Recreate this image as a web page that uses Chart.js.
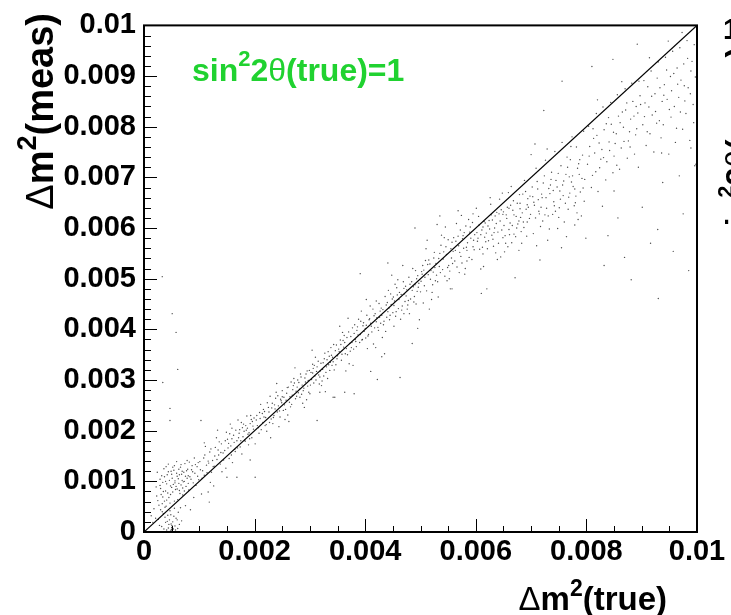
<!DOCTYPE html>
<html>
<head>
<meta charset="utf-8">
<script src="https://cdn.jsdelivr.net/npm/chart.js@4"></script>
<style>
  html, body { margin: 0; padding: 0; background: #fff; }
  canvas { display: block; }
</style>
</head>
<body>
<canvas id="myChart" width="731" height="615"></canvas>
<script>
// Δm² (true, meas) pairs, in units of 1e-4
const bandLow = [
  [3.2,1.1],[4.1,0.4],[4.8,0.2],[5.0,0.9],[5.1,0.3],[4.9,1.6],[5.3,0.6],[4.6,2.4],[3.8,2.9],[5.6,1.2],
  [4.4,0.8],[5.2,2.0],[6.1,0.7],[3.5,3.6],[4.7,4.2],[5.8,2.7],[6.4,1.5],[3.9,1.9],[5.0,0.1],[4.95,0.5],
  [5.05,1.3],[4.3,3.3],[6.8,2.2],[5.5,4.7],[3.0,4.4],[4.0,5.1],[6.2,3.9],[2.6,2.5],
  [2.5,6.2],[3.1,7.4],[3.4,9.8],[3.9,8.1],[4.2,11.3],[4.5,6.8],[4.8,9.1],[5.1,10.6],[5.4,12.2],[5.7,8.4],
  [6.0,11.0],[6.3,9.6],[6.6,12.8],[6.9,10.2],[7.2,11.8],[7.6,9.0],[7.9,12.4],[8.3,10.9],[8.7,13.1],[9.2,11.6],
  [9.6,12.9],[3.6,12.5],[2.9,10.4],[4.4,13.4],[5.9,13.9],[6.5,7.6],[7.4,13.5],[8.1,8.3],[9.9,10.3],[2.2,8.9],
  [3.3,5.6],[5.2,7.9],[6.1,6.4],[7.0,8.7],[4.1,9.5],[5.6,10.1],[6.8,11.4],[8.0,11.1],[8.9,9.7],[7.8,14.1],
  [3.7,10.9],[4.9,12.0],[6.2,10.5],[5.0,8.8],[7.3,10.0],
  [7.5,5.2],[9.0,6.8],[10.4,7.5],[11.8,5.9],[8.4,4.4],[12.6,9.1],[10.9,11.2],
  [5.1,43.1],[5.8,39.4],[6.1,32.1],[3.4,29.5],[4.7,24.4],[4.7,22.0],[3.3,50.4],[10.3,22.0],
  [20.1,10.8],[16.8,10.8],[11.6,7.9],[19.2,14.2],[15.0,10.8],
  [1.3,3.2],[1.8,4.6],[2.1,2.7],[2.7,5.3],[3.4,6.9],[3.8,4.9],[4.3,7.7],[4.6,10.2],[5.3,9.4],[5.5,6.1],
  [5.9,11.6],[6.4,8.2],[6.7,13.3],[7.1,9.9],[7.7,12.1],[8.2,13.8],[8.5,10.4],[9.1,14.6],[9.4,9.2],[9.8,13.7],
  [2.4,11.8],[3.0,8.6],[4.0,12.9],[4.7,5.7],[5.0,11.4],[5.8,9.0],[6.3,12.4],[7.0,7.3],[7.5,11.0],[8.8,11.9],
  [1.6,1.9],[2.8,1.3],[3.6,0.6],[4.5,1.5],[5.4,3.1],[5.7,0.4],[6.6,4.8],[4.2,2.1],[4.85,3.4],[5.15,0.7],
  [3.3,4.0],[6.0,2.4],
  [2.3,7.1],[2.9,9.2],[3.2,11.1],[3.5,8.0],[3.9,10.0],[4.1,6.3],[4.4,11.9],[4.8,7.4],[5.2,12.8],[5.6,9.7],
  [6.0,8.5],[6.4,11.3],[6.9,12.0],[7.3,8.1],[7.8,10.6],[8.6,12.3],[9.3,13.3],[9.7,11.0],[3.7,6.1],[5.5,13.1],
  [6.7,9.3],[8.0,9.6]
];
const bandMid = [
  [10.2,12.3],[10.8,14.6],[11.3,13.2],[11.9,15.8],[12.4,14.1],[12.9,16.7],[13.5,15.2],[14.0,17.4],[14.6,16.1],[15.1,18.3],
  [15.7,17.0],[16.2,19.1],[16.8,18.0],[17.3,20.2],[17.9,18.8],[18.4,21.0],[19.0,19.6],[19.6,21.8],[11.1,16.9],[12.2,11.8],
  [13.8,13.4],[14.9,19.7],[16.5,15.9],[17.6,21.6],[18.9,17.2],[19.8,20.3],[10.5,10.6],[13.1,18.6],[15.4,14.5],[16.9,16.6],
  [18.1,19.9],[12.7,13.0],[14.3,15.6],[17.0,22.1],[19.3,23.0],[11.6,14.0],[15.9,20.5],[13.3,20.1],[18.6,22.9],[14.8,12.6],
  [10.1,13.9],[10.6,12.1],[11.0,15.2],[11.4,11.7],[11.7,13.6],[12.1,16.4],[12.5,12.9],[12.8,15.0],[13.2,14.3],[13.6,17.8],
  [13.9,15.7],[14.4,14.2],[14.7,18.0],[15.2,16.6],[15.5,19.4],[15.8,15.2],[16.3,17.7],[16.6,20.1],[17.1,18.6],[17.4,16.8],
  [17.8,20.6],[18.2,18.1],[18.5,20.1],[18.8,19.3],[19.2,21.4],[19.5,18.6],[19.9,22.5],[12.0,9.8],[14.1,11.9],[16.0,13.7],
  [17.7,15.4],[10.9,17.6],[13.4,16.2],[15.6,21.3],
  [15.3,17.5],[15.9,18.4],[16.4,16.3],[17.2,19.5],[17.5,18.0],[18.0,21.3],[18.3,17.9],[18.7,20.5],[19.1,18.4],[19.4,22.2],
  [19.7,20.9],
  [20.3,22.1],[20.8,19.5],[21.4,23.4],[21.9,21.0],[22.5,24.6],[23.0,22.3],[23.6,25.1],[24.1,23.7],[24.7,26.2],[25.2,24.0],
  [25.8,27.4],[26.3,25.6],[26.9,28.1],[27.4,26.3],[28.0,29.5],[28.5,27.2],[29.1,30.4],[29.6,28.8],[30.2,31.5],[30.7,29.4],
  [31.3,32.6],[31.8,30.6],[32.4,33.4],[32.9,31.5],[33.5,34.7],[34.0,32.9],[34.6,35.8],[20.1,17.4],[22.2,19.9],[23.9,27.6],
  [25.5,22.2],[27.1,30.3],[28.7,25.4],[30.5,33.1],[32.1,28.9],[33.8,36.4],[21.1,25.2],[24.4,20.8],[26.6,29.6],[29.4,26.1],
  [31.0,34.5],[33.2,30.3],[34.3,37.0],[22.8,26.8],[26.0,23.1],[28.3,31.2],[30.0,27.3],[32.7,35.3],[23.3,21.4],[25.0,26.7],
  [27.7,28.6],[29.9,31.9],[31.6,31.0],[34.9,34.2],[21.7,22.7],[24.9,25.5],[27.9,27.5],[30.9,30.8],[33.7,33.5],
  [31.8,27.6],[34.5,26.6],[31.3,22.0],[34.2,26.6],
  [20.5,21.0],[20.9,23.6],[21.2,20.2],[21.6,24.2],[22.0,22.6],[22.3,25.5],[22.7,21.6],[23.1,24.5],[23.5,23.0],[23.8,26.4],
  [24.3,24.9],[24.6,22.7],[25.0,27.9],[25.4,25.1],[25.7,26.0],[26.1,28.6],[26.5,24.7],[26.8,27.0],[27.2,29.4],[27.6,26.8],
  [28.1,28.2],[28.4,30.6],[28.8,27.9],[29.2,29.6],[29.5,31.8],[29.8,27.6],[30.3,30.1],[30.6,32.3],[31.1,30.0],[31.5,33.7],
  [31.9,31.8],[32.2,29.8],[32.6,34.2],[33.0,32.6],[33.3,35.6],[33.6,31.9],[34.1,34.5],[34.4,32.0],[34.8,36.9],[22.9,18.6],
  [26.2,21.8],[29.0,24.6],[32.8,27.7],[24.0,29.3],[27.3,32.4],[30.4,35.9],
  [20.4,23.0],[20.7,20.6],[21.0,22.4],[21.5,21.6],[21.8,23.8],[22.1,21.2],[22.6,23.7],[23.2,25.4],[23.4,22.6],[23.7,24.3],
  [24.2,26.9],[24.5,23.9],[24.8,25.9],[25.3,26.6],[25.6,24.2],[25.9,28.5],[26.4,26.7],[26.7,25.2],[27.0,28.9],[27.5,27.8],
  [27.8,30.0],[28.2,26.6],[28.6,29.0],[28.9,28.4],[29.3,31.2],[29.7,29.9],[30.1,29.0],[30.5,31.4],[30.8,32.9],[31.2,31.7],
  [31.7,29.2],[32.0,33.3],[32.3,32.1],[32.5,30.8],[33.1,34.0],[33.4,33.0],[33.9,34.9],[34.2,33.6],[34.7,33.0],
  [35.2,36.1],[35.7,33.9],[36.3,37.4],[36.8,35.0],[37.4,38.6],[37.9,36.1],[38.5,39.8],[39.0,37.4],[39.6,40.7],[40.1,38.3],
  [40.7,41.9],[41.2,39.5],[41.8,43.1],[42.3,40.4],[42.9,44.2],[43.4,41.6],[44.0,45.3],[44.5,42.8],[45.1,46.4],[45.6,43.5],
  [46.2,47.3],[46.7,44.6],[47.3,48.5],[47.8,45.7],[48.4,49.4],[48.9,46.5],[49.5,50.6],[35.9,39.4],[37.1,33.2],[38.8,42.0],
  [40.4,36.2],[42.0,45.6],[43.7,39.6],[45.4,48.9],[47.0,43.1],[48.6,52.0],[36.5,31.8],[39.3,43.6],[41.5,37.1],[44.2,47.7],
  [46.4,42.0],[49.2,45.0],[37.7,40.3],[40.9,44.6],[43.1,38.4],[45.9,49.8],[47.6,44.0],[36.0,37.8],[38.2,38.0],[40.0,40.2],
  [42.6,42.4],[44.7,44.9],[47.1,47.0],[49.0,48.8],[38.0,27.3],[42.2,30.1],[39.1,51.0],[44.1,53.1],[35.4,40.6],[46.8,52.6],
  [49.8,41.9],[41.0,31.7],[36.3,27.6],[46.3,30.5],[43.0,34.6],[48.5,37.2],[49.5,40.2],[49.0,60.0],
  [35.0,34.8],[35.5,37.9],[35.8,35.1],[36.2,38.8],[36.6,36.2],[37.0,39.5],[37.3,35.7],[37.6,37.4],[38.1,40.9],[38.4,36.6],
  [38.7,38.9],[39.2,41.6],[39.5,38.0],[39.8,39.6],[40.3,42.8],[40.6,39.0],[41.0,41.2],[41.4,44.0],[41.7,40.3],[42.1,42.3],
  [42.5,45.1],[42.8,41.2],[43.2,43.9],[43.6,46.5],[43.9,42.4],[44.3,44.2],[44.6,47.0],[45.0,43.3],[45.3,45.6],[45.7,48.2],
  [46.0,44.1],[46.5,46.9],[46.9,49.4],[47.2,45.5],[47.5,47.8],[47.9,50.3],[48.2,46.0],[48.7,48.4],[49.1,51.6],[49.4,47.5],
  [49.7,49.1],[37.8,32.9],[41.9,36.4],[45.2,40.6],[48.0,43.1],[36.9,42.2],[40.2,45.9],[44.8,50.7],[43.5,35.2],
  [35.3,35.6],[35.6,37.0],[36.1,36.5],[36.4,35.2],[36.7,38.4],[37.2,37.2],[37.5,36.4],[38.0,39.2],[38.3,37.6],[38.6,40.5],
  [39.1,39.0],[39.4,37.9],[39.7,41.3],[40.2,40.8],[40.5,38.7],[40.8,42.1],[41.1,40.6],[41.6,42.7],[42.0,41.5],[42.4,39.8],
  [42.7,43.6],[43.0,42.8],[43.3,40.9],[43.8,44.8],[44.1,43.5],[44.4,41.9],[44.9,46.0],[45.2,44.7],[45.5,42.6],[45.8,46.8],
  [46.1,45.9],[46.6,43.8],[47.0,48.1],[47.4,46.6],[47.7,44.8],[48.1,48.9],[48.5,47.7],[48.8,45.4],[49.3,50.0],[49.6,48.3],
  [50.2,51.4],[50.7,48.6],[51.3,52.8],[51.8,49.9],[52.4,54.1],[52.9,50.7],[53.5,55.0],[54.0,51.8],[54.6,56.3],[55.1,52.6],
  [55.7,57.2],[56.2,53.5],[56.8,58.4],[57.3,54.4],[57.9,59.1],[58.4,55.6],[59.0,60.2],[59.5,56.3],[50.5,45.2],[52.1,47.3],
  [53.8,58.6],[55.4,48.0],[57.0,51.2],[58.7,61.7],[51.0,55.9],[53.2,46.4],[54.8,49.6],[56.5,60.9],[58.1,52.0],[59.8,58.7],
  [52.6,52.2],[55.9,55.4],[57.6,57.9],[59.3,53.8],[56.8,63.4],[59.5,62.8],[55.7,48.0],[58.4,53.5],[51.6,44.0],[54.3,58.1],
  [50.9,53.6],[53.0,60.7],[53.5,62.4],
  [50.1,49.5],[50.4,52.6],[50.8,50.3],[51.1,47.6],[51.5,53.7],[51.9,51.6],[52.2,48.8],[52.5,55.2],[52.8,53.0],[53.1,49.4],
  [53.4,52.4],[53.7,56.6],[54.1,53.9],[54.4,50.5],[54.7,54.8],[55.0,57.7],[55.3,51.5],[55.6,54.1],[56.0,58.1],[56.3,55.6],
  [56.6,52.3],[56.9,56.5],[57.2,59.6],[57.5,53.1],[57.8,56.0],[58.2,60.4],[58.5,57.1],[58.8,54.2],[59.1,58.0],[59.4,61.1],
  [59.7,55.7],[52.0,45.9],[55.2,50.0],[58.0,50.9],[54.5,60.2],[57.4,62.5],[51.2,57.6],
  [50.0,47.4],[50.3,50.9],[50.6,51.7],[51.4,50.8],[51.7,52.9],[52.3,51.3],[52.7,49.6],[53.3,54.0],[53.6,51.2],[54.2,55.3],
  [54.9,52.2],[55.5,55.9],[55.8,53.0],[56.4,57.4],[57.1,55.2],[57.7,58.5],[58.3,56.2],[58.9,59.2],[59.6,57.6]
];
const bandHigh = [
  [60.2,59.1],[60.7,55.8],[61.3,60.2],[61.8,57.3],[62.4,61.5],[62.9,58.6],[63.5,62.4],[64.0,59.2],[64.6,63.6],[65.1,60.5],
  [65.7,64.1],[66.2,61.0],[66.8,65.4],[67.3,62.3],[67.9,66.6],[68.4,63.0],[69.0,67.2],[69.5,64.1],[60.5,62.3],[61.3,54.9],
  [62.0,48.0],[63.2,56.4],[64.3,65.7],[65.4,57.0],[66.5,57.1],[67.1,50.2],[68.2,59.3],[69.3,61.2],[60.9,51.9],[62.7,64.7],
  [63.9,53.8],[65.9,67.0],[66.9,58.8],[68.8,69.4],[61.6,58.2],[63.7,60.9],[64.9,62.7],[66.0,63.9],[67.6,60.8],[69.8,66.3],
  [62.2,60.4],[65.2,55.3],[68.0,64.9],[60.1,63.9],[64.8,66.9],[67.8,55.6],[69.2,58.4],[61.0,47.1],
  [60.3,57.4],[60.6,60.6],[60.9,58.7],[61.2,56.2],[61.5,61.3],[61.9,59.0],[62.1,55.9],[62.5,59.8],[62.8,62.6],[63.1,57.8],
  [63.4,60.0],[63.8,63.1],[64.1,57.0],[64.4,61.4],[64.7,59.6],[65.0,63.2],[65.3,58.5],[65.6,61.9],[66.0,59.7],[66.3,64.5],
  [66.6,60.5],[66.9,62.6],[67.2,58.3],[67.5,64.9],[67.8,61.4],[68.1,62.1],[68.5,66.7],[68.7,60.1],[69.1,63.7],[69.4,65.8],
  [69.7,61.9],[61.4,52.4],[63.6,55.1],[65.8,56.3],[68.3,57.0],[62.6,66.0],[66.4,68.2],[64.5,54.3],
  [60.4,58.0],[61.1,59.6],[61.7,61.0],[62.3,57.5],[63.0,61.6],[63.3,59.1],[64.2,62.8],[64.9,58.1],[65.5,62.6],[66.1,58.7],
  [66.7,63.5],[67.4,60.0],[68.0,63.8],[68.6,61.2],[69.3,64.6],[69.9,62.7],
  [70.2,68.1],[70.6,64.5],[71.1,69.2],[71.5,62.8],[71.9,66.7],[72.4,70.3],[72.8,63.9],[73.2,67.8],[73.7,71.0],[74.1,65.2],
  [74.5,69.4],[75.0,62.1],[75.4,72.3],[75.8,66.4],[76.3,70.6],[76.7,63.7],[77.1,73.5],[77.6,68.2],[78.0,65.0],[78.4,71.8],
  [78.9,67.1],[79.3,74.4],[79.7,69.6],[70.4,58.9],[71.7,60.3],[73.0,57.6],[74.8,59.9],[76.0,61.2],[77.9,60.6],[79.1,62.4],
  [70.9,71.8],[72.6,73.4],[74.3,75.1],[75.6,76.9],[77.4,78.0],[79.5,79.1],[71.3,65.6],[73.5,68.5],[75.2,67.3],[76.9,70.1],
  [78.6,72.7],[72.1,61.4],[76.5,74.0],[78.2,76.0],[70.0,74.5],[73.9,62.7],[77.8,64.4],[75.5,56.1],[71.6,53.7],[79.9,58.0],
  [75.6,89.0],[72.3,83.2],[70.7,76.6],
  [70.3,66.2],[70.8,62.0],[71.2,67.7],[71.8,64.1],[72.2,68.9],[72.7,66.0],[73.1,62.4],[73.6,69.6],[74.0,67.4],[74.4,63.3],
  [74.9,70.8],[75.3,65.7],[75.7,68.5],[76.2,64.9],[76.6,72.0],[77.0,66.9],[77.5,70.3],[77.9,67.7],[78.3,63.0],[78.8,73.5],
  [79.2,69.8],[79.6,65.3],[71.0,56.5],[73.3,59.8],[76.4,58.3],[78.5,61.7],[72.9,75.6],[77.2,76.1],
  [70.5,65.1],[71.4,63.3],[72.0,66.0],[72.5,62.6],[73.4,66.8],[74.2,64.4],[74.7,68.1],[75.1,64.0],[75.9,69.3],[76.8,66.1],
  [77.3,69.1],[78.1,66.3],[78.7,70.6],[79.4,67.9],
  [80.2,72.6],[80.6,76.1],[81.1,70.4],[81.5,74.8],[81.9,78.3],[82.4,71.9],[82.8,75.5],[83.2,79.4],[83.7,73.1],[84.1,77.0],
  [84.5,80.5],[85.0,74.2],[85.4,78.6],[85.8,82.1],[86.3,75.8],[86.7,79.9],[87.1,83.3],[87.6,77.2],[88.0,81.5],[88.4,85.0],
  [88.9,78.4],[89.3,82.7],[89.7,86.1],[80.9,68.0],[82.1,67.2],[83.5,69.5],[84.8,70.9],[86.0,71.6],[87.4,73.8],[88.7,74.6],
  [80.4,80.1],[81.8,82.6],[83.0,83.9],[84.4,84.8],[85.6,86.3],[87.0,87.5],[88.2,88.6],[89.5,89.0],[81.3,77.7],[82.6,73.6],
  [84.0,81.8],[85.2,76.7],[86.5,82.9],[87.8,79.0],[89.0,84.0],[83.9,58.5],[86.9,54.2],[88.1,49.8],[85.7,62.0],[81.0,91.9],
  [84.8,93.3],[89.2,96.3],[82.9,64.3],[83.2,52.6],
  [80.5,74.2],[81.2,79.6],[81.7,71.1],[82.3,76.8],[83.1,73.9],[83.6,80.6],[84.2,75.3],[84.9,78.9],[85.5,72.4],[86.1,80.8],
  [86.8,77.1],[87.3,84.7],[87.9,76.0],[88.6,82.1],[89.1,79.6],[89.8,84.4],[82.0,85.3],[86.4,88.9],[85.0,67.3],[89.4,72.0],
  [90.2,80.4],[90.6,84.7],[91.1,87.9],[91.5,78.6],[91.9,82.3],[92.4,86.5],[92.8,89.6],[93.2,81.2],[93.7,85.0],[94.1,88.3],
  [94.5,91.2],[95.0,83.4],[95.4,87.1],[95.8,90.5],[96.3,79.7],[96.7,85.8],[97.1,89.2],[97.6,92.4],[98.0,82.6],[98.4,87.7],
  [98.9,91.0],[99.3,84.4],[99.7,89.8],[90.8,76.3],[92.2,75.0],[93.5,77.8],[94.9,74.6],[96.1,76.9],[97.4,79.5],[98.7,77.3],
  [90.4,89.1],[91.7,91.0],[93.0,92.8],[94.3,93.7],[95.6,94.9],[96.9,95.6],[98.2,97.0],[99.5,96.2],[91.3,83.9],[92.7,80.7],
  [94.0,86.2],[95.3,81.9],[96.5,88.4],[97.8,85.1],[99.1,92.9],[90.1,64.1],[92.9,59.7],[95.7,55.4],[97.5,62.8],[99.6,72.3],
  [93.8,69.0],[98.5,51.6],[91.6,57.0],[93.0,46.1],[98.9,75.8],[99.8,72.6],
  [90.5,82.0],[91.0,79.0],[91.8,86.0],[92.5,83.0],[93.3,87.7],[93.9,80.4],[94.6,85.4],[95.2,89.9],[95.9,84.0],[96.4,91.6],
  [97.0,82.9],[97.7,88.1],[98.3,93.5],[98.8,86.5],[99.4,80.8],[91.4,93.6],[94.8,96.9],[97.3,98.6],[93.6,74.8],[96.8,70.3]
];
const diagonal = [0, 100];

const xTicks = [0, 0.002, 0.004, 0.006, 0.008, 0.01];
const yTicks = [0, 0.001, 0.002, 0.003, 0.004, 0.005, 0.006, 0.007, 0.008, 0.009, 0.01];

const UNIT = 1e-4;
const FONT = '"Liberation Sans", Arial, sans-serif';
const GREEN = 'rgb(32, 210, 48)';

const points = bandLow.concat(bandMid, bandHigh).map(p => ({ x: p[0] * UNIT, y: p[1] * UNIT }));

function fmt(v) {
  return String(Number(v.toFixed(4)));
}

// draw a run of text pieces with different fonts
function drawRich(ctx, parts, x, y, align) {
  let w = 0;
  parts.forEach(p => { ctx.font = p.font; w += ctx.measureText(p.t).width; });
  let cx = align === 'right' ? x - w : x;
  parts.forEach(p => {
    ctx.font = p.font;
    ctx.fillText(p.t, cx, y + (p.dy || 0));
    cx += ctx.measureText(p.t).width;
  });
}

const decor = {
  id: 'decor',
  afterDatasetsDraw(chart) {
    const ctx = chart.ctx;
    const a = chart.chartArea;
    const xs = chart.scales.x, ys = chart.scales.y;
    ctx.save();
    ctx.strokeStyle = '#000';
    ctx.lineWidth = 1;
    ctx.beginPath();
    // y ticks, inward
    for (let i = 0; i <= 50; i++) {
      const py = Math.round(ys.getPixelForValue(i * 0.0002)) + 0.5;
      const len = i % 5 === 0 ? 13 : 7;
      ctx.moveTo(a.left, py); ctx.lineTo(a.left + len, py);
    }
    // x ticks, inward
    for (let i = 0; i <= 20; i++) {
      const px = Math.round(xs.getPixelForValue(i * 0.0005)) + 0.5;
      const len = i % 4 === 0 ? 13 : 6;
      ctx.moveTo(px, a.bottom); ctx.lineTo(px, a.bottom - len);
    }
    ctx.stroke();
    // frame
    ctx.lineWidth = 2;
    ctx.strokeRect(a.left, a.top, a.right - a.left, a.bottom - a.top);

    ctx.textBaseline = 'alphabetic';
    ctx.fillStyle = '#000';
    // x title
    drawRich(ctx, [
      { t: 'Δ', font: '33px ' + FONT },
      { t: 'm', font: 'bold 33px ' + FONT },
      { t: '2', font: 'bold 23px ' + FONT, dy: -14 },
      { t: '(true)', font: 'bold 33px ' + FONT }
    ], 667, 610, 'right');
    // y title
    ctx.save();
    ctx.translate(53, 13);
    ctx.rotate(-Math.PI / 2);
    drawRich(ctx, [
      { t: 'Δ', font: '38px ' + FONT },
      { t: 'm', font: 'bold 38px ' + FONT },
      { t: '2', font: 'bold 27px ' + FONT, dy: -17 },
      { t: '(meas)', font: 'bold 38px ' + FONT }
    ], 0, 0, 'right');
    ctx.restore();
    // neighbouring pad, cut by the right edge
    ctx.font = 'bold 29px ' + FONT;
    ctx.fillText('1', 723, 39);
    ctx.save();
    ctx.translate(748, 244);
    ctx.rotate(-Math.PI / 2);
    drawRich(ctx, [
      { t: 'sin', font: 'bold 32px ' + FONT },
      { t: '2', font: 'bold 22px ' + FONT, dy: -15 },
      { t: '2', font: 'bold 32px ' + FONT },
      { t: 'θ', font: '32px ' + FONT },
      { t: '(meas)', font: 'bold 32px ' + FONT }
    ], 0, 0, 'left');
    ctx.restore();
    // green label
    ctx.fillStyle = GREEN;
    drawRich(ctx, [
      { t: 'sin', font: 'bold 32px ' + FONT },
      { t: '2', font: 'bold 22px ' + FONT, dy: -15 },
      { t: '2', font: 'bold 32px ' + FONT },
      { t: 'θ', font: '32px ' + FONT },
      { t: '(true)=1', font: 'bold 32px ' + FONT }
    ], 192, 81, 'left');
    ctx.restore();
  }
};

new Chart(document.getElementById('myChart'), {
  type: 'scatter',
  data: {
    datasets: [{
      label: 'events',
      data: points,
      pointRadius: 0.7,
      pointBorderWidth: 0,
      backgroundColor: 'rgba(0,0,0,0.7)',
      borderColor: 'rgba(0,0,0,0)'
    }, {
      label: 'diagonal',
      type: 'line',
      data: diagonal.map(v => ({ x: v * UNIT, y: v * UNIT })),
      borderColor: '#000',
      borderWidth: 1.2,
      pointRadius: 0,
      fill: false
    }]
  },
  options: {
    responsive: false,
    animation: false,
    devicePixelRatio: 1,
    layout: { padding: { left: 0, top: 24, right: 34, bottom: 0 } },
    plugins: { legend: { display: false }, tooltip: { enabled: false } },
    scales: {
      x: {
        type: 'linear', min: 0, max: 0.01,
        afterBuildTicks: s => { s.ticks = xTicks.map(v => ({ value: v })); },
        afterFit: s => { s.height = 83; },
        grid: { display: false, drawTicks: false },
        border: { display: false },
        ticks: { padding: 3, maxRotation: 0, color: '#000', font: { family: FONT, size: 29, weight: 'bold' }, callback: v => fmt(v) }
      },
      y: {
        type: 'linear', min: 0, max: 0.01,
        afterBuildTicks: s => { s.ticks = yTicks.map(v => ({ value: v })); },
        afterFit: s => { s.width = 144; },
        grid: { display: false, drawTicks: false },
        border: { display: false },
        ticks: { padding: 8, color: '#000', font: { family: FONT, size: 29, weight: 'bold' }, callback: v => fmt(v) }
      }
    }
  },
  plugins: [decor]
});
</script>
</body>
</html>
